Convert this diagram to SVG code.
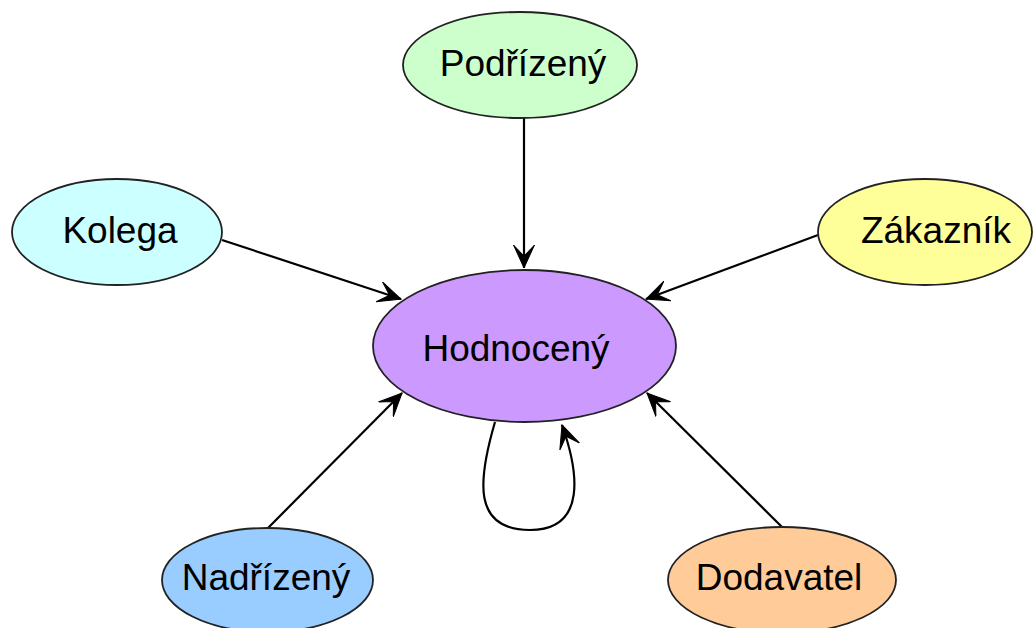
<svg xmlns="http://www.w3.org/2000/svg" width="1034" height="628" viewBox="0 0 1034 628">
<style>
.n ellipse{stroke:#222;stroke-width:1.8}
.n text{font-family:"Liberation Sans",Arial,sans-serif;font-size:37px;fill:#000;text-anchor:middle}
.e path{fill:none;stroke:#000;stroke-width:2.2;marker-end:url(#ah)}
</style>
<defs>
<marker id="ah" viewBox="0 0 24 24" refX="23" refY="12" markerWidth="24" markerHeight="24" markerUnits="userSpaceOnUse" orient="auto">
<path d="M0,1.5 L23,12 L0,22.5 L11,12 z" fill="#000" stroke="#000" stroke-width="1" stroke-linejoin="miter"/>
</marker>
</defs>
<rect width="1034" height="628" fill="#fff"/>
<g class="e" id="edges">
<path d="M524,118 L524,268"/>
<path d="M222,240 L401,299"/>
<path d="M818,235 L646,299"/>
<path d="M268,528 L402,393"/>
<path d="M782,527 L647,393"/>
<path d="M495,422 C478,480 472,530 530,530 C588,530 578,470 562,425"/>
</g>
<g class="n" id="node-hodnoceny"><ellipse cx="524.5" cy="346" rx="151.5" ry="76" fill="#CC99FF"/><text x="516" y="361">Hodnocený</text></g>
<g class="n" id="node-podrizeny"><ellipse cx="520" cy="65" rx="117" ry="53" fill="#CCFFCC"/><text x="523" y="76">Podřízený</text></g>
<g class="n" id="node-kolega"><ellipse cx="117" cy="232" rx="105" ry="53" fill="#CCFFFF"/><text x="120" y="243">Kolega</text></g>
<g class="n" id="node-zakaznik"><ellipse cx="925" cy="232" rx="107" ry="53" fill="#FFFF99"/><text x="936" y="243">Zákazník</text></g>
<g class="n" id="node-nadrizeny"><ellipse cx="267.5" cy="580" rx="105.5" ry="52" fill="#99CCFF"/><text x="266" y="590">Nadřízený</text></g>
<g class="n" id="node-dodavatel"><ellipse cx="782" cy="580" rx="114" ry="53" fill="#FFCC99"/><text x="779" y="590">Dodavatel</text></g>
</svg>
